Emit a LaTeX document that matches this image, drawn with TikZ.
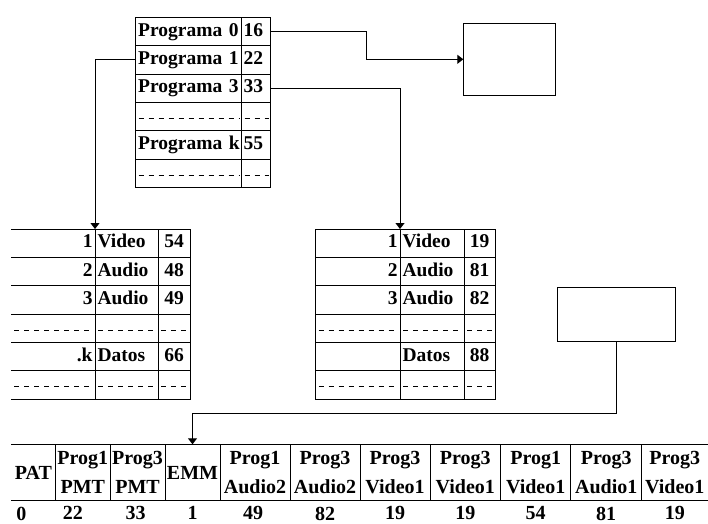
\documentclass[tikz,border=0pt]{standalone}
\usepackage{fontspec}
\setmainfont{Liberation Serif}
\usetikzlibrary{arrows.meta}
\usetikzlibrary{positioning}
\def\rowh{28.35}
\def\tabtop{444.3}

\begin{document}
\begin{tikzpicture}[x=1pt, y=-1pt, line width=1pt,
    cell/.style={draw, anchor=north west, inner xsep=2.5pt, inner ysep=0pt, outer sep=0pt,
      minimum height=\rowh pt, text height=13.5pt, text depth=4pt,
      font=\fontsize{19.5}{21}\selectfont\bfseries},
    hlines/.style={draw=none, append after command={
      (\tikzlastnode.north west) edge (\tikzlastnode.north east)
      (\tikzlastnode.south west) edge (\tikzlastnode.south east)}},
    bcell/.style={draw, anchor=north west, inner xsep=1pt, inner ysep=0pt, outer sep=0pt,
      minimum height=56.4pt, align=center, font=\fontsize{20}{28.5}\selectfont\bfseries},
    num/.style={inner sep=0pt, font=\fontsize{20}{21}\selectfont\bfseries},
    box/.style={draw, anchor=north west, outer sep=0pt},
    dashrow/.style={dash pattern=on 5pt off 5pt, shorten <=3pt, shorten >=2pt},
    conn/.style={-{Triangle[length=6pt,width=9pt]}}]
	\useasboundingbox (0,0) rectangle (708,523);

	% program table
	\foreach \nm/\id [count=\i from 0] in {Programa 0/16, Programa 1/22, Programa 3/33, {}/{}, Programa k/55, {}/{}} {
		\node[cell, text width=101pt, align=left] (p\i) at (135.7, 17.3+\i*\rowh) {\mbox{\nm}};
		\node[cell, text width=25pt, inner xsep=2pt, align=left, right=0pt of p\i] (pid\i) {\id};
	}

	% stream tables
	\foreach \k/\ty/\id [count=\i from 0] in {1/Video/54, 2/Audio/48, 3/Audio/49, {}/{}/{}, .k/Datos/66, {}/{}/{}} {
		\node[cell, hlines, text width=79pt, align=right] (a\i) at (11, 229+\i*\rowh) {\k};
		\node[cell, text width=58pt, align=left, right=0pt of a\i] (at\i) {\ty};
		\node[cell, text width=27pt, align=center, right=0pt of at\i] (aid\i) {\id};
	}
	\foreach \k/\ty/\id [count=\i from 0] in {1/Video/19, 2/Audio/81, 3/Audio/82, {}/{}/{}, {}/Datos/88, {}/{}/{}} {
		\node[cell, text width=79.3pt, align=right] (r\i) at (315.7, 229+\i*\rowh) {\k};
		\node[cell, text width=59pt, align=left, right=0pt of r\i] (rt\i) {\ty};
		\node[cell, text width=26pt, align=center, right=0pt of rt\i] (rid\i) {\id};
	}
	\foreach \i in {3,5}
		\foreach \c in {p,pid,a,at,aid,r,rt,rid}
			\draw[dashrow] ([yshift=-2pt]\c\i.west) -- ([yshift=-2pt]\c\i.east);

	% empty boxes
	\node[box, minimum width=92pt, minimum height=72pt] (box1) at (463.3, 23.3) {};
	\node[box, minimum width=118.4pt, minimum height=54pt] (box2) at (557.3, 287.3) {};

	% transport stream
	\node[bcell, hlines, minimum width=44.7pt] (b0) at (11, \tabtop) {PAT};
	\foreach \x/\w/\txt [count=\i] in {55.7/54.3/Prog1\\PMT, 110/55/Prog3\\PMT, 165/55/EMM,
		220/70/Prog1\\Audio2, 290/70/Prog3\\Audio2, 360/70/Prog3\\Video1,
		430/70.7/Prog3\\Video1, 500.7/70/Prog1\\Video1, 570.7/71/Prog3\\Audio1} {
		\node[bcell, minimum width=\w pt] (b\i) at (\x, \tabtop) {\txt};
	}
	\node[bcell, hlines, minimum width=66.3pt] (b10) at (641.7, \tabtop) {Prog3\\Video1};
	\foreach \num/\sh [count=\i from 0] in {0/-12, 22/-10, 33/-2, 1/0, 49/-2, 82/0, 19/0, 19/0, 54/0, 81/0, 19/0}
		\node[num, below=5.5pt of b\i, xshift=\sh pt] (n\i) {\num};

	% connectors
	\draw[conn] (pid0.east) -- ++(96,0) |- (box1.west);
	\draw[conn] (p1.west) -| (a0.north east);
	\draw[conn] (pid2.east) -| (r0.north east);
	\draw[conn] (box2.south) -- ++(0,72) -| (b3.north);
\end{tikzpicture}
\end{document}
